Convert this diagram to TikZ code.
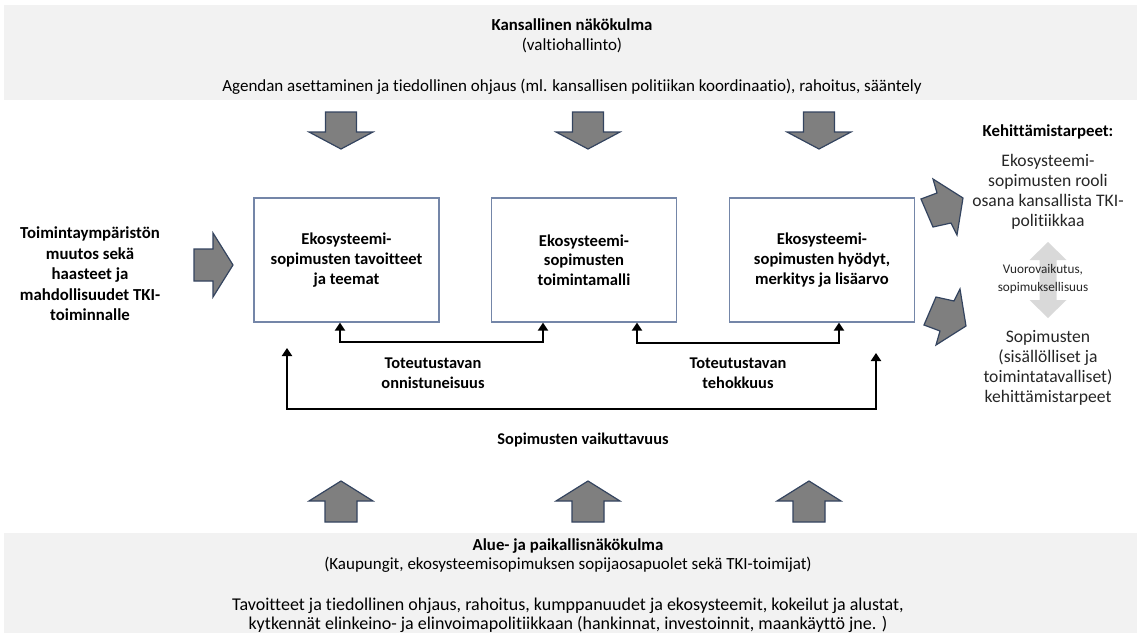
\documentclass[tikz,border=0pt]{standalone}
\usepackage{fontspec}
\setmainfont{Carlito}[Ligatures={NoCommon}]
\usetikzlibrary{arrows.meta}

\begin{document}
\begin{tikzpicture}
		[x=.5pt,y=-.5pt,line join=miter,
		%Styles
		band/.style={fill=bandgray},
		band title/.style={inner sep=0,font=\fontsize{8.4}{10}\selectfont\bfseries},
		band text/.style={inner sep=0,align=center,font=\fontsize{8.5}{9.6}\selectfont},
		main box/.style={draw=boxline,line width=.6pt,minimum width=92.5pt,minimum height=62pt,align=center,inner sep=2pt,font=\fontsize{8.3}{9.8}\selectfont\bfseries},
		side text/.style={inner sep=0,align=center,font=\fontsize{8.4}{10.25}\selectfont\bfseries},
		need text/.style={inner sep=0,align=center,text=needtext,font=\fontsize{8.8}{10}\selectfont},
		loop text/.style={inner sep=0,align=center,font=\fontsize{8.2}{10}\selectfont\bfseries},
		block arrow/.style={fill=arrowfill,draw=arrowline,line width=.6pt},
		feedback/.style={line width=1.3pt,>={Triangle[width=5pt,length=4pt]},<->}
		]
		
		%Colors
		\definecolor{bandgray}{HTML}{F2F2F2}
		\definecolor{boxline}{HTML}{7486A8}
		\definecolor{arrowfill}{HTML}{7F7F7F}
		\definecolor{arrowline}{HTML}{34445F}
		\definecolor{dblgray}{HTML}{D9D9D9}
		\definecolor{needtext}{HTML}{262626}
		
		\useasboundingbox (0,0) rectangle (1137,633);
		
		%Bands
		\fill[band] (4,5) rectangle (1137,100);
		\fill[band] (4,533) rectangle (1137,633);
		\node[band title] (natTitle) at (572,25) {Kansallinen näkökulma};
		\node[band text] (natSub) at (572,45) {(valtiohallinto)};
		\node[band text] (natText) at (572,87) {Agendan asettaminen ja tiedollinen ohjaus (ml. kansallisen politiikan koordinaatio), rahoitus, sääntely};
		\node[band title] (locTitle) at (568,546) {Alue- ja paikallisnäkökulma};
		\node[band text] (locSub) at (568,565) {(Kaupungit, ekosysteemisopimuksen sopijaosapuolet sekä TKI-toimijat)};
		\node[band text,font=\fontsize{9}{9.6}\selectfont] (locText) at (568,615) {Tavoitteet ja tiedollinen ohjaus, rahoitus, kumppanuudet ja ekosysteemit, kokeilut ja alustat,\\kytkennät elinkeino- ja elinvoimapolitiikkaan (hankinnat, investoinnit, maankäyttö jne. )};
		
		%Block arrows
		\draw[block arrow] (341,112) +(-15.5,0) -- +(15.5,0) -- +(15.5,20) -- +(32,20) -- +(0,37) -- +(-32,20) -- +(-15.5,20) -- cycle;
		\draw[block arrow] (588,112) +(-15.5,0) -- +(15.5,0) -- +(15.5,20) -- +(32,20) -- +(0,37) -- +(-32,20) -- +(-15.5,20) -- cycle;
		\draw[block arrow] (819,112) +(-15.5,0) -- +(15.5,0) -- +(15.5,20) -- +(32,20) -- +(0,37) -- +(-32,20) -- +(-15.5,20) -- cycle;
		\draw[block arrow] (341,522) +(-16,0) -- +(16,0) -- +(16,-21) -- +(32,-21) -- +(0,-41) -- +(-32,-21) -- +(-16,-21) -- cycle;
		\draw[block arrow] (588,522) +(-16,0) -- +(16,0) -- +(16,-21) -- +(32,-21) -- +(0,-41) -- +(-32,-21) -- +(-16,-21) -- cycle;
		\draw[block arrow] (809,522) +(-16,0) -- +(16,0) -- +(16,-21) -- +(32,-21) -- +(0,-41) -- +(-32,-21) -- +(-16,-21) -- cycle;
		\draw[block arrow] (194,265) +(0,-16) -- +(19,-16) -- +(19,-32) -- +(39,0) -- +(19,32) -- +(19,16) -- +(0,16) -- cycle;
		\draw[block arrow] (921,199) -- (937,193) -- (933,179) -- (963,198) -- (957,235) -- (951,223) -- (933,227) -- cycle;
		\draw[block arrow] (924,325) -- (940,331) -- (936,345) -- (966,326) -- (960,289) -- (954,301) -- (936,297) -- cycle;
		\fill[dblgray] (1048,242) -- +(18.5,18) -- +(8.5,18) -- +(8.5,58) -- +(18.5,58) -- +(0,76) -- +(-18.5,58) -- +(-8.5,58) -- +(-8.5,18) -- +(-18.5,18) -- cycle;
		
		%Main boxes
		\node[main box] (goals) at (346.5,260) {Ekosysteemi-\\sopimusten tavoitteet\\ja teemat};
		\node[main box] (model) at (584,260) {Ekosysteemi-\\sopimusten\\toimintamalli};
		\node[main box] (value) at (822,260) {Ekosysteemi-\\sopimusten hyödyt,\\merkitys ja lisäarvo};
		
		\node[side text] (change) at (90,274) {Toimintaympäristön\\muutos sekä\\haasteet ja\\mahdollisuudet TKI-\\toiminnalle};
		
		\node[need text,text=black,font=\fontsize{8.4}{10}\selectfont\bfseries] (needs) at (1048,132) {Kehittämistarpeet:};
		\node[need text] (role) at (1048,192) {Ekosysteemi-\\sopimusten rooli\\osana kansallista TKI-\\politiikkaa};
		\node[need text,font=\fontsize{6.6}{9}\selectfont] (inter) at (1043,279) {Vuorovaikutus,\\sopimuksellisuus};
		\node[need text] (devNeeds) at (1048,368) {Sopimusten\\(sisällölliset ja\\toimintatavalliset)\\kehittämistarpeet};
		
		%Feedback loops
		\coordinate (l1) at (340,342);
		\coordinate (l2) at (543,342);
		\coordinate (r1) at (637,343);
		\coordinate (r2) at (839,343);
		\coordinate (outerL) at (287,348);
		\coordinate (outerLB) at (287,409);
		\coordinate (outerRB) at (876,409);
		\coordinate (outerR) at (876,353);
		
		\draw[feedback] (goals.south -| l1) -- (l1) -- (l2) -- (model.south -| l2);
		\draw[feedback] (model.south -| r1) -- (r1) -- (r2) -- (value.south -| r2);
		\draw[feedback] (outerL) -- (outerLB) -- (outerRB) -- (outerR);
		
		\node[loop text] (success) at (433,373) {Toteutustavan\\onnistuneisuus};
		\node[loop text] (efficiency) at (738,373) {Toteutustavan\\tehokkuus};
		\node[loop text] (impact) at (583,440) {Sopimusten vaikuttavuus};
	\end{tikzpicture}
\end{document}
